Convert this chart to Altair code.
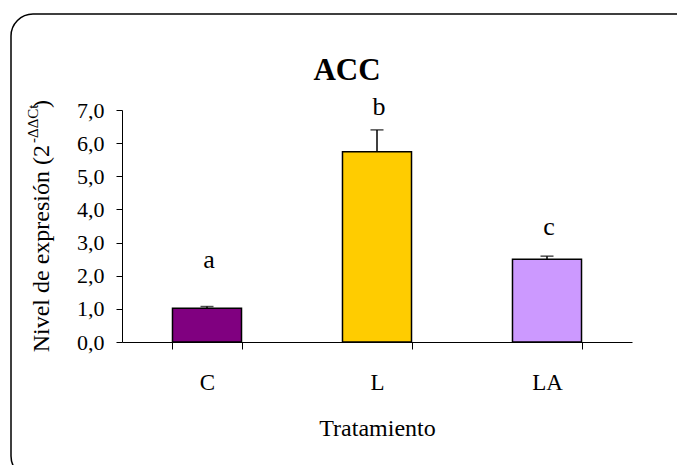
import altair as alt
import pandas as pd

tratamientos = ["C", "L", "LA"]
medias = [1.02, 5.74, 2.50]
errores = [0.05, 0.66, 0.09]
letras = ["a", "b", "c"]
pos_letras = [2.24, 6.85, 3.23]
colores = ["#800080", "#FFCC00", "#CC99FF"]
y_ticks = [0, 1, 2, 3, 4, 5, 6, 7]

FONT = "Liberation Serif"

df = pd.DataFrame({
    "trat": tratamientos,
    "media": medias,
    "err": errores,
    "letra": letras,
    "ypos": pos_letras,
})

W, H = 510, 232
yscale = alt.Scale(domain=[0, 7], nice=False)
yaxis = alt.Axis(
    title="", values=y_ticks, grid=False, tickSize=6, labelPadding=12,
    labelOverlap=False,
    labelExpr="replace(format(datum.value, '.1f'), '.', ',')",
    labelFont=FONT, labelFontSize=22, labelColor="black",
    domainColor="black", tickColor="black",
)

base = alt.Chart(df).transform_calculate(top="datum.media + datum.err").encode(
    x=alt.X(
        "trat:N",
        sort=tratamientos,
        scale=alt.Scale(paddingInner=0.594, paddingOuter=0.297),
        axis=alt.Axis(
            title="Tratamiento", labelAngle=0, tickBand="extent", tickSize=7,
            labelFont=FONT, labelFontSize=23, labelColor="black", labelPadding=22,
            titleFont=FONT, titleFontSize=24, titleFontWeight="normal", titleColor="black",
            titlePadding=22, domainColor="black", tickColor="black",
        ),
    )
)

bars = base.mark_bar(stroke="black", strokeWidth=1.5).encode(
    y=alt.Y("media:Q", scale=yscale, axis=yaxis),
    color=alt.Color("trat:N", scale=alt.Scale(domain=tratamientos, range=colores), legend=None),
)

err_rule = base.mark_rule(color="black", strokeWidth=1.5).encode(
    y=alt.Y("media:Q", scale=yscale, axis=yaxis), y2="top:Q"
)
err_cap = base.mark_tick(color="black", thickness=1.5, size=13, orient="horizontal").encode(
    y=alt.Y("top:Q", scale=yscale, axis=yaxis)
)
letters = base.mark_text(font=FONT, fontSize=26, baseline="alphabetic", align="center", dx=2).encode(
    y=alt.Y("ypos:Q", scale=yscale, axis=yaxis), text="letra:N"
)

one = pd.DataFrame({"k": [0]})
deco = alt.Chart(one)

title = deco.mark_text(font=FONT, fontSize=31, fontWeight="bold", align="center",
                       baseline="alphabetic").encode(
    x=alt.value(225), y=alt.value(-30), text=alt.value("ACC"))

ytitle_main = deco.mark_text(font=FONT, fontSize=24, angle=270, align="right",
                             baseline="alphabetic").encode(
    x=alt.value(-73), y=alt.value(35), text=alt.value("Nivel de expresión (2"))
ytitle_sup = deco.mark_text(font=FONT, fontSize=15, angle=270, align="left",
                            baseline="alphabetic").encode(
    x=alt.value(-84), y=alt.value(33), text=alt.value("-ΔΔCt"))
ytitle_close = deco.mark_text(font=FONT, fontSize=24, angle=270, align="left",
                              baseline="alphabetic").encode(
    x=alt.value(-73), y=alt.value(-2), text=alt.value(")"))

border = deco.mark_rect(fill="white", fillOpacity=0, stroke="black", strokeWidth=1.5,
                        cornerRadius=22).encode(
    x=alt.value(-111), x2=alt.value(578), y=alt.value(-96), y2=alt.value(368))

chart = alt.layer(
    border, bars, err_rule, err_cap, letters, title, ytitle_main, ytitle_sup, ytitle_close
).properties(
    width=W, height=H,
    autosize=alt.AutoSizeParams(type="none"),
    padding={"left": 114, "top": 102, "right": 45, "bottom": 123},
).configure_view(strokeWidth=0).configure_text(font=FONT)

chart.save("out.html", embed_options={"renderer": "svg", "actions": False})
